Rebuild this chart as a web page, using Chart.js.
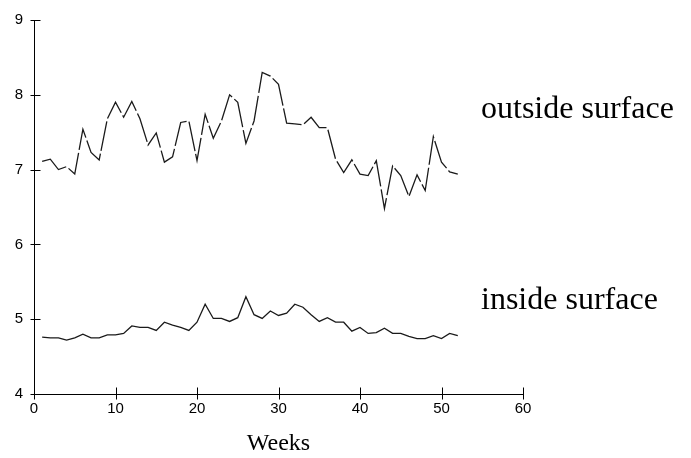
<!DOCTYPE html>
<html>
<head>
<meta charset="utf-8">
<script src="https://cdn.jsdelivr.net/npm/chart.js@4/dist/chart.umd.min.js"></script>
<style>
html,body{margin:0;padding:0;background:#fff;}
#wrap{width:691px;height:458px;}
</style>
</head>
<body>
<div id="wrap"><canvas id="c" width="691" height="458"></canvas></div>
<script>
// Weeks 1..52
const weeks = [1,2,3,4,5,6,7,8,9,10,11,12,13,14,15,16,17,18,19,20,21,22,23,24,25,26,
  27,28,29,30,31,32,33,34,35,36,37,38,39,40,41,42,43,44,45,46,47,48,49,50,51,52];
const outsideSurface = [7.11,7.14,7.00,7.04,6.94,7.54,7.23,7.13,7.68,7.90,7.70,7.91,7.68,7.33,7.49,7.10,
  7.17,7.63,7.65,7.12,7.74,7.42,7.65,8.00,7.90,7.35,7.65,8.30,8.25,8.14,7.62,7.61,7.60,7.70,7.56,7.56,
  7.14,6.96,7.13,6.94,6.92,7.12,6.48,7.05,6.92,6.64,6.93,6.72,7.44,7.10,6.97,6.94];
const insideSurface = [4.76,4.75,4.75,4.72,4.75,4.80,4.75,4.75,4.79,4.79,4.81,4.91,4.89,4.89,4.85,4.96,
  4.92,4.89,4.85,4.96,5.20,5.01,5.01,4.97,5.02,5.30,5.06,5.01,5.11,5.05,5.08,5.20,5.16,5.06,4.97,5.02,
  4.96,4.96,4.84,4.89,4.81,4.82,4.88,4.81,4.81,4.77,4.74,4.74,4.78,4.74,4.81,4.78];
const xTicks = [0,10,20,30,40,50,60];
const yTicks = [4,5,6,7,8,9];
const seriesLabels = ['outside surface','inside surface'];
const xTitle = 'Weeks';

const toPts = (vals) => weeks.map((w,i)=>({x:w, y:vals[i]}));

const crossTicks = {
  id:'crossTicks',
  afterDraw(chart){
    const ctx = chart.ctx;
    const xs = chart.scales.x, ys = chart.scales.y;
    ctx.save();
    ctx.strokeStyle = '#000';
    ctx.lineWidth = 1;
    ctx.beginPath();
    const yb = Math.round(ys.getPixelForValue(4)) + 0.5;
    xTicks.forEach(v=>{
      const px = Math.round(xs.getPixelForValue(v)) + 0.5;
      ctx.moveTo(px, yb-7); ctx.lineTo(px, yb+5);
    });
    const xl = Math.round(xs.getPixelForValue(0)) + 0.5;
    yTicks.forEach(v=>{
      const py = Math.round(ys.getPixelForValue(v)) + 0.5;
      ctx.moveTo(xl-4, py); ctx.lineTo(xl+6, py);
    });
    ctx.stroke();
    // series labels
    ctx.fillStyle = '#000';
    ctx.font = '32px "Liberation Serif", "Times New Roman", serif';
    ctx.textAlign = 'left';
    ctx.textBaseline = 'alphabetic';
    const lx = xs.getPixelForValue(54.85);
    ctx.fillText(seriesLabels[0], lx, ys.getPixelForValue(7.69));
    ctx.fillText(seriesLabels[1], lx, ys.getPixelForValue(5.14));
    ctx.restore();
  }
};

new Chart(document.getElementById('c'), {
  type:'line',
  data:{
    datasets:[
      {label:seriesLabels[0], data:toPts(outsideSurface), borderColor:'#1a1a1a', borderWidth:1.3,
       borderDash:[30,3], pointRadius:0, tension:0, fill:false},
      {label:seriesLabels[1], data:toPts(insideSurface), borderColor:'#1a1a1a', borderWidth:1.3,
       pointRadius:0, tension:0, fill:false}
    ]
  },
  options:{
    responsive:false,
    animation:false,
    layout:{padding:{left:0,right:168,top:19,bottom:0}},
    plugins:{legend:{display:false}, tooltip:{enabled:false}},
    scales:{
      x:{
        type:'linear', min:0, max:60,
        afterBuildTicks(s){ s.ticks = xTicks.map(v=>({value:v})); },
        afterFit(s){ s.height = 64; },
        grid:{display:true, drawOnChartArea:false, drawTicks:false},
        border:{display:true, color:'#000', width:1},
        ticks:{padding:6, color:'#000', maxRotation:0, autoSkip:false,
          font:{family:'"Liberation Sans Narrow", "Liberation Sans", sans-serif', size:15}},
        title:{display:true, text:xTitle, color:'#000', padding:{top:0,bottom:0},
          font:{family:'"Liberation Serif", "Times New Roman", serif', size:24}}
      },
      y:{
        type:'linear', min:4, max:9,
        afterBuildTicks(s){ s.ticks = yTicks.map(v=>({value:v})); },
        afterFit(s){ s.width = 34; },
        grid:{display:true, drawOnChartArea:false, drawTicks:false},
        border:{display:true, color:'#000', width:1},
        ticks:{padding:11, color:'#000', autoSkip:false,
          font:{family:'"Liberation Sans Narrow", "Liberation Sans", sans-serif', size:15}}
      }
    }
  },
  plugins:[crossTicks]
});
</script>
</body>
</html>
